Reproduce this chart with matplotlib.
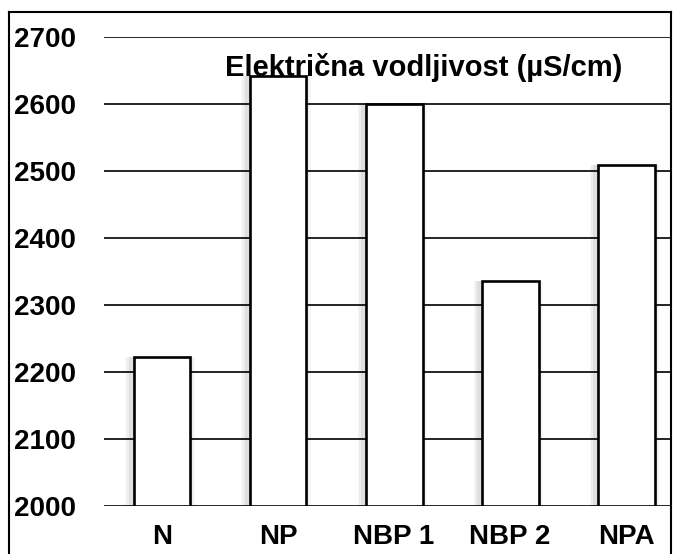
import numpy as np
import matplotlib
matplotlib.use("Agg")
import matplotlib.pyplot as plt
from matplotlib.lines import Line2D

plt.rcParams.update({'font.family': ['Liberation Sans', 'DejaVu Sans'], 'font.weight': 'bold'})

categories = ["N", "NP", "NBP 1", "NBP 2", "NPA"]
values = [2223, 2641, 2600, 2336, 2508]
yticks = [2000, 2100, 2200, 2300, 2400, 2500, 2600, 2700]
title = "Električna vodljivost (µS/cm)"

fig = plt.figure(figsize=(6.75, 5.54), dpi=100)
ax = fig.add_axes([0.154, 0.0866, 0.839, 0.847])

x = np.arange(len(categories))
bottom = 2000
heights = np.array(values) - bottom

# soft shadow around bars
for w, a in [(0.60, 0.03), (0.57, 0.04), (0.54, 0.06)]:
    ax.bar(x - 0.015, heights + 4, width=w, bottom=bottom - 4, color='black',
           alpha=a, linewidth=0, zorder=2)
ax.bar(x, heights, width=0.49, bottom=bottom, color='white', edgecolor='black',
       linewidth=1.9, zorder=3)

ax.set_ylim(2000, 2700)
ax.set_xlim(-0.5, 4.38)
ax.set_yticks(yticks)
ax.set_xticks(x)
ax.set_xticklabels(categories)
ax.yaxis.grid(True, color='black', linewidth=1.2, zorder=1)
ax.set_axisbelow(True)
for s in ax.spines.values():
    s.set_visible(False)
ax.tick_params(axis='both', length=0, labelsize=20)
ax.tick_params(axis='y', pad=20)
ax.tick_params(axis='x', pad=13)
for lab in ax.get_yticklabels() + ax.get_xticklabels():
    lab.set_fontweight('bold')

ax.text(0.565, 0.934, title, transform=ax.transAxes, ha='center', va='center',
        fontsize=21, fontweight='bold')

# figure frame
bx0, bx1, by1 = 9 / 675, 671 / 675, 1 - 12 / 554
for xs, ys in [([bx0, bx0], [0, by1]), ([bx0, bx1], [by1, by1]), ([bx1, bx1], [by1, 0])]:
    fig.add_artist(Line2D(xs, ys, color='black', linewidth=1.5, transform=fig.transFigure))

fig.savefig("out.png", dpi=100)
